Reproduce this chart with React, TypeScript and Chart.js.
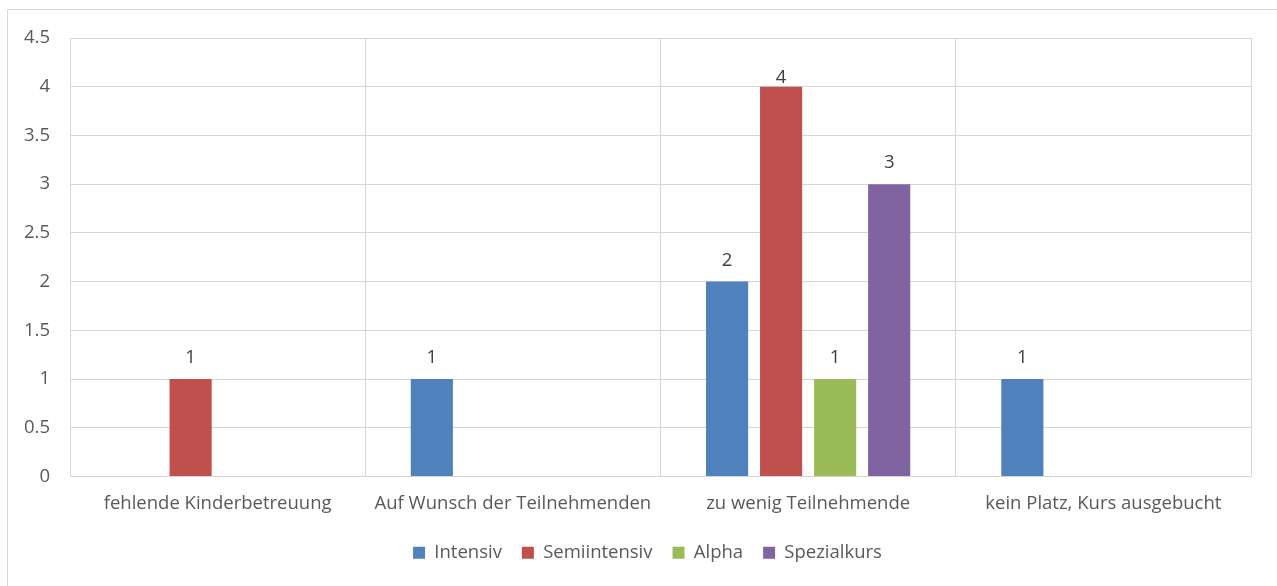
import React, { useEffect, useRef } from "react";
import { Chart, registerables } from "chart.js";

Chart.register(...registerables);

const categories = [
  "fehlende Kinderbetreuung",
  "Auf Wunsch der Teilnehmenden",
  "zu wenig Teilnehmende",
  "kein Platz, Kurs ausgebucht",
];
const seriesNames = ["Intensiv", "Semiintensiv", "Alpha", "Spezialkurs"];
const intensiv = [null, 1, 2, 1];
const semiintensiv = [1, null, 4, null];
const alpha = [null, null, 1, null];
const spezialkurs = [null, null, 3, null];
const seriesColors = ["#4F81BD", "#C0504D", "#9BBB59", "#8064A2"];
const yMin = 0;
const yMax = 4.5;
const yStep = 0.5;

const FONT = "'Open Sans'";
const FS = 18.5;
const TEXT = "#595959";
const GRID = "#d6d6d6";

const dataLabels = {
  id: "dataLabels",
  afterDatasetsDraw(chart: any) {
    const ctx = chart.ctx;
    const top = chart.chartArea.top;
    ctx.save();
    ctx.font = `${FS}px ${FONT}`;
    ctx.fillStyle = "#404040";
    ctx.textAlign = "center";
    ctx.textBaseline = "alphabetic";
    chart.data.datasets.forEach((ds: any, i: number) => {
      const meta = chart.getDatasetMeta(i);
      meta.data.forEach((el: any, j: number) => {
        const v = ds.data[j];
        if (v === null || v === undefined) return;
        const y = Math.max(el.y - 16, top + 45);
        ctx.fillText(String(v), el.x, y);
      });
    });
    ctx.restore();
  },
};

const legendShift = {
  id: "legendShift",
  afterLayout(chart: any) {
    if (chart.legend) {
      chart.legend.left += 18;
      chart.legend.right += 18;
    }
  },
};

export default function App() {
  const ref = useRef<HTMLCanvasElement | null>(null);
  useEffect(() => {
    if (!ref.current) return;
    const values = [intensiv, semiintensiv, alpha, spezialkurs];
    const chart = new Chart(ref.current, {
      type: "bar",
      data: {
        labels: categories,
        datasets: seriesNames.map((name, i) => ({
          label: name,
          data: values[i],
          backgroundColor: seriesColors[i],
          borderWidth: 0,
          categoryPercentage: 0.732,
          barPercentage: 0.78,
        })),
      },
      options: {
        responsive: false,
        animation: false,
        layout: { padding: { left: 8, top: 38, right: 26, bottom: 14 } },
        plugins: {
          tooltip: { enabled: false },
          legend: {
            position: "bottom",
            labels: {
              boxWidth: 12,
              boxHeight: 12,
              padding: 20,
              color: TEXT,
              font: { family: FONT, size: FS },
            },
          },
        },
        scales: {
          x: {
            grid: { color: GRID, drawTicks: false, offset: true },
            border: { color: GRID },
            ticks: { color: TEXT, font: { family: FONT, size: FS }, padding: 16, maxRotation: 0 },
            afterFit: (s: any) => {
              s.height = 47;
            },
          },
          y: {
            min: yMin,
            max: yMax,
            grid: { color: GRID, drawTicks: false },
            border: { color: GRID },
            ticks: {
              stepSize: yStep,
              color: TEXT,
              font: { family: FONT, size: FS },
              padding: 20,
              callback: (v: any) => String(Number(v)),
            },
            afterFit: (s: any) => {
              s.width = 62;
            },
          },
        },
      },
      plugins: [dataLabels, legendShift],
    });
    return () => chart.destroy();
  }, []);
  return (
    <div style={{ position: "fixed", left: 0, top: 0, width: 1277, height: 586, overflow: "hidden", background: "#fff" }}>
      <div
        style={{
          position: "absolute",
          left: 7,
          top: 9,
          width: 1300,
          height: 600,
          border: "1px solid #d9d9d9",
        }}
      />
      <canvas ref={ref} width={1277} height={586} style={{ position: "absolute", left: 0, top: 0, width: 1277, height: 586 }} />
    </div>
  );
}
